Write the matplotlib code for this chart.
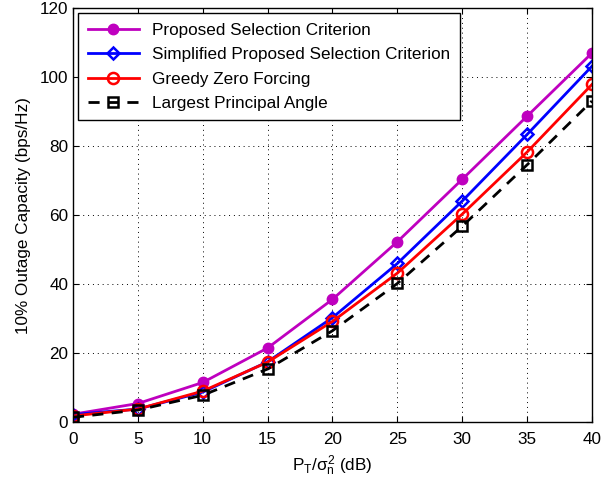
import matplotlib
matplotlib.use("Agg")
import matplotlib.pyplot as plt

plt.rcParams['font.family'] = ['Liberation Sans', 'DejaVu Sans']
plt.rcParams['mathtext.fontset'] = 'custom'
plt.rcParams['mathtext.rm'] = 'Liberation Sans'
plt.rcParams['mathtext.it'] = 'Liberation Sans'

# data
snr_db = [0, 5, 10, 15, 20, 25, 30, 35, 40]
proposed = [2.3, 5.4, 11.5, 21.5, 35.6, 52.3, 70.4, 88.7, 107.0]
simplified = [2.2, 3.8, 8.7, 17.5, 30.3, 46.0, 64.1, 83.4, 103.2]
greedy_zf = [1.8, 3.8, 9.0, 17.4, 29.2, 43.2, 60.3, 78.3, 97.9]
largest_angle = [1.4, 3.5, 7.8, 15.4, 26.5, 40.2, 56.8, 74.6, 93.1]

fs = 12.3

fig = plt.figure(figsize=(6.16, 4.83), dpi=100)
ax = fig.add_axes([0.1185, 0.126, 0.8425, 0.857])

ax.plot(snr_db, proposed, color='#bf00bf', lw=2, marker='o', ms=7.5,
        label='Proposed Selection Criterion')
ax.plot(snr_db, simplified, color='blue', lw=2, marker='D', ms=6.5, mfc='none',
        mew=1.8, label='Simplified Proposed Selection Criterion')
ax.plot(snr_db, greedy_zf, color='red', lw=2, marker='o', ms=8, mfc='none',
        mew=1.8, label='Greedy Zero Forcing')
ax.plot(snr_db, largest_angle, color='black', lw=2, ls=(0, (4, 3)), marker='s',
        ms=6.5, mfc='none', mew=1.8, label='Largest Principal Angle')

ax.set_xlim(0, 40)
ax.set_ylim(0, 120)
ax.set_xticks(range(0, 41, 5))
ax.set_yticks(range(0, 121, 20))
ax.grid(True, color='black', ls=(0, (1, 4)), lw=0.7)
ax.tick_params(direction='in', top=True, right=True, labelsize=fs, length=4)
ax.tick_params(axis='x', pad=7)
for s in ax.spines.values():
    s.set_linewidth(1)

ax.set_xlabel(r'P$_T$/$\sigma_n^2$ (dB)', fontsize=fs, labelpad=5)
ax.set_ylabel('10% Outage Capacity (bps/Hz)', fontsize=fs, labelpad=6)

leg = ax.legend(loc='upper left', fontsize=fs, fancybox=False, edgecolor='black',
                framealpha=1, handlelength=3.0, borderaxespad=0.3,
                labelspacing=0.55, borderpad=0.55)
leg.get_frame().set_linewidth(1)

fig.savefig('out.png', dpi=100)
